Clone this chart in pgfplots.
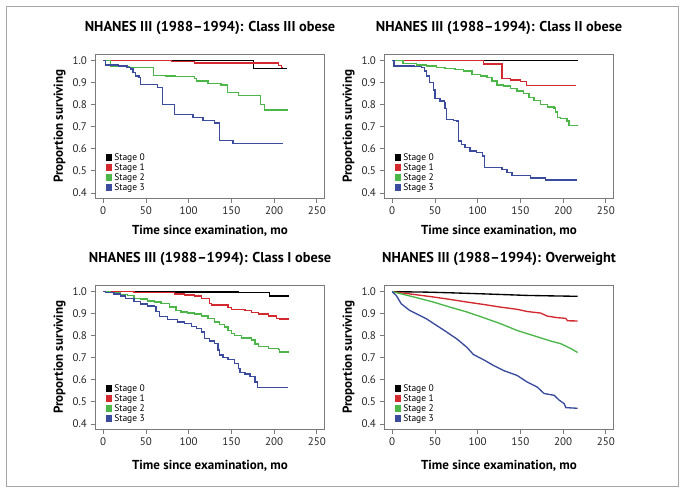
\documentclass[border=0pt]{standalone}
\usepackage{pgfplots}
\pgfplotsset{compat=1.18}
\usepackage{fontspec}
\setmainfont{PT Sans}
\definecolor{kmred}{HTML}{D42A2F}
\definecolor{kmgreen}{HTML}{4CB748}
\definecolor{kmblue}{HTML}{3B4C9F}
\definecolor{axgray}{HTML}{7A7A7A}
\pgfplotsset{km/.style={
  scale only axis, width=229pt, height=143.5pt,
  xmin=-9, xmax=259, ymin=0.377, ymax=1.028,
  xtick={0,50,100,150,200,250}, ytick={0.4,0.5,0.6,0.7,0.8,0.9,1.0},
  yticklabel style={/pgf/number format/.cd,fixed,fixed zerofill,precision=1},
  /pgf/number format/assume math mode=true,
  tick label style={font=\fontsize{11}{12}\selectfont, text=black!85},
  xtick pos=bottom, ytick pos=left, tick align=outside, major tick length=5pt,
  axis line style={axgray, line width=0.8pt},
  tick style={axgray, line width=0.8pt},
  title style={font=\bfseries\fontsize{14.3}{16}\selectfont, anchor=base, at={(axis description cs:0.5,1)}, yshift=17pt},
  xlabel={Time since examination, mo},
  ylabel={Proportion surviving},
  label style={font=\bfseries\fontsize{13}{15}\selectfont},
  xlabel style={at={(axis description cs:0.5,0)}, anchor=base, yshift=-36pt},
  ylabel style={at={(axis description cs:-0.157,0.5)}, anchor=center},
  legend style={at={(axis description cs:0,0)}, anchor=south west, xshift=7pt, yshift=2pt,
    draw=none, fill=none, font=\fontsize{9.5}{10}\selectfont, row sep=-2.2pt, legend cell align=left},
  every axis plot/.append style={line width=1.35pt, const plot},
  legend image code/.code={\fill[#1] (0pt,-2.6pt) rectangle (5.2pt,2.6pt);},
}}
\begin{document}
\begin{tikzpicture}[x=1pt,y=1pt]
\path[use as bounding box] (0,0) rectangle (684,493);
\draw[gray!70, line width=0.8pt] (6,6.5) rectangle (678,486.3);
% Panel 1
\begin{axis}[km, at={(95.5pt,295pt)}, anchor=south west, title={NHANES III (1988–1994): Class III obese}]
\addplot[black] coordinates {(0,1.0)(175.7,0.965)(215,0.965)};
\addplot[kmred] coordinates {(0,1.0)(80,0.997)(107,0.989)(205,0.978)(209,0.97)(211,0.97)};
\addplot[kmgreen] coordinates {(0,1.0)(8.6,0.973)(30,0.968)(59,0.933)(73.5,0.930)(85,0.927)(107,0.92)(109,0.908)(122.6,0.895)(138,0.889)(145.4,0.855)(158,0.842)(184.4,0.80)(188.7,0.776)(216,0.776)};
\addplot[kmblue] coordinates {(0,1)(2.7,0.98)(18,0.976)(28,0.97)(32,0.962)(35,0.945)(38,0.93)(42,0.925)(44,0.893)(63.7,0.877)(69.6,0.80)(83.3,0.756)(105,0.741)(116.7,0.729)(130.5,0.718)(136.4,0.639)(152,0.624)(211,0.624)};
\legend{Stage 0,Stage 1,Stage 2,Stage 3}
\end{axis}
% Panel 2
\begin{axis}[km, at={(384.5pt,295pt)}, anchor=south west, title={NHANES III (1988–1994): Class II obese}]
\addplot[black] coordinates {(0,1)(217,1)};
\addplot[kmred] coordinates {(0,1)(107,0.985)(128.5,0.918)(138.4,0.912)(150,0.905)(157,0.888)(215,0.888)};
\addplot[kmgreen] coordinates {(0,1)(12.6,0.986)(28.3,0.98)(40,0.976)(51.9,0.97)(61.7,0.965)(73.5,0.96)(83.3,0.953)(93.2,0.938)(103,0.93)(110.8,0.923)(116.7,0.908)(122.6,0.889)(130.5,0.885)(138.4,0.874)(146.2,0.862)(154,0.852)(160,0.832)(165.9,0.82)(173.7,0.80)(181.6,0.79)(189.5,0.786)(191.4,0.767)(193.4,0.741)(197.3,0.737)(204.4,0.726)(207,0.706)(217,0.703)};
\addplot[kmblue] coordinates {(0,1)(2,0.976)(26.3,0.973)(34.2,0.968)(38.1,0.953)(40,0.93)(44,0.9)(48,0.867)(50,0.827)(55.8,0.817)(61,0.81)(61.7,0.782)(63.7,0.733)(71.5,0.729)(75.5,0.726)(77.4,0.635)(81.4,0.62)(85.3,0.605)(91.2,0.59)(99,0.582)(106,0.567)(107.7,0.514)(128.5,0.506)(134.4,0.494)(140.3,0.479)(162,0.468)(179.6,0.458)(216,0.458)};
\legend{Stage 0,Stage 1,Stage 2,Stage 3}
\end{axis}
% Panel 3
\begin{axis}[km, at={(95.5pt,64pt)}, anchor=south west, title={NHANES III (1988–1994): Class I obese}, xlabel style={yshift=-4pt}]
\addplot[black] coordinates {(0,1)(65,0.998)(158,0.995)(195,0.98)(217,0.98)};
\addplot[kmred] coordinates {(0,1)(36,0.997)(83.3,0.99)(95,0.985)(107,0.98)(114.8,0.97)(124.6,0.947)(126.6,0.94)(146,0.929)(150,0.92)(166,0.914)(173.7,0.906)(181.6,0.898)(193.4,0.89)(203,0.879)(206.4,0.876)(217,0.876)};
\addplot[kmgreen] coordinates {(0,1)(8.6,0.997)(20.4,0.988)(28.3,0.982)(36.2,0.97)(44,0.966)(51.9,0.958)(59.7,0.953)(67.6,0.945)(77.4,0.93)(85.3,0.916)(91.2,0.908)(99,0.904)(107,0.898)(114.8,0.889)(122.6,0.878)(130.5,0.863)(136.4,0.852)(142.3,0.84)(146.2,0.825)(150,0.81)(154,0.8)(162,0.79)(173.7,0.78)(177.7,0.762)(181.6,0.75)(193.4,0.742)(205.2,0.737)(206.4,0.727)(217,0.727)};
\addplot[kmblue] coordinates {(0,1)(2.75,0.995)(12.6,0.99)(20.4,0.98)(26.3,0.97)(36.2,0.955)(44,0.944)(51.9,0.935)(59.7,0.932)(61.7,0.909)(65.6,0.886)(75.5,0.874)(87.3,0.863)(95,0.855)(103,0.843)(108.9,0.832)(114.8,0.817)(118.7,0.788)(124.6,0.777)(130.5,0.765)(134.4,0.735)(136.4,0.712)(140.3,0.701)(146.2,0.692)(154,0.674)(158,0.651)(160,0.632)(165.9,0.626)(171.8,0.614)(177.7,0.591)(180.8,0.565)(216,0.565)};
\legend{Stage 0,Stage 1,Stage 2,Stage 3}
\end{axis}
% Panel 4
\begin{axis}[km, at={(384.5pt,64pt)}, anchor=south west, title={NHANES III (1988–1994): Overweight}, xlabel style={yshift=-4pt}]
\addplot[black, sharp plot] coordinates {(0,1)(40,0.998)(67.6,0.995)(107,0.99)(158,0.983)(185,0.981)(217,0.979)};
\addplot[kmred, sharp plot] coordinates {(0,1)(28.3,0.986)(48,0.976)(67.6,0.965)(87.3,0.953)(107,0.942)(126.6,0.93)(146.2,0.92)(158,0.91)(173.7,0.903)(181.6,0.889)(193.4,0.882)(203,0.879)(205.2,0.868)(217,0.867)};
\addplot[kmgreen, sharp plot] coordinates {(0,1)(8.6,0.992)(28.3,0.973)(48,0.953)(67.6,0.93)(87.3,0.908)(107,0.882)(126.6,0.855)(146.2,0.824)(165.9,0.8)(185.5,0.776)(197.3,0.764)(209,0.742)(217,0.724)};
\addplot[kmblue, sharp plot] coordinates {(0,1)(4.7,0.983)(10.6,0.945)(20.4,0.915)(28.3,0.9)(40,0.877)(51.9,0.847)(63.7,0.817)(75.5,0.786)(87.3,0.748)(95,0.715)(107,0.691)(118.7,0.665)(130.5,0.642)(146.2,0.62)(158,0.59)(169.8,0.567)(177.7,0.538)(189.5,0.53)(195.4,0.508)(201.3,0.492)(203.2,0.474)(217,0.471)};
\legend{Stage 0,Stage 1,Stage 2,Stage 3}
\end{axis}
\end{tikzpicture}
\end{document}
